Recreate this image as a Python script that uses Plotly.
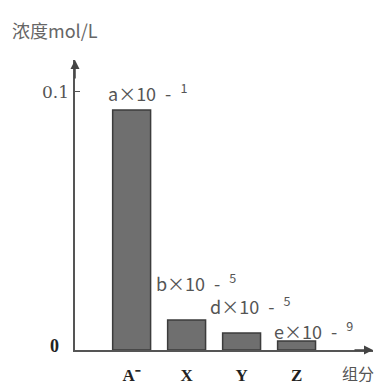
import plotly.graph_objects as go

categories = ["A⁻", "X", "Y", "Z"]
values = [0.093, 0.0116, 0.0066, 0.0035]
bar_labels = ["a×10\u2002-\u2002<sup>1</sup>", "b×10\u2002-\u2002<sup>5</sup>",
              "d×10\u2002-\u2002<sup>5</sup>", "e×10\u2002-\u2002<sup>9</sup>"]
y_tick_vals = [0, 0.1]
y_tick_text = ["0", "0.1"]
title_text = "浓度mol/L"
x_axis_text = "组分"

W, H = 378, 385
L, R, T, B = 75, 5, 60, 35
PW, PH = W - L - R, H - T - B

fig = go.Figure()
fig.add_trace(go.Bar(
    x=list(range(len(categories))), y=values, width=0.69,
    marker=dict(color="#6f6f6f", line=dict(color="#3c3c3c", width=1.5)),
    hoverinfo="skip",
))

label_shift = [(16, 18), (9, 38), (8, 28), (17, 11)]
anns = []
for i, (lab, v) in enumerate(zip(bar_labels, values)):
    dx, dy = label_shift[i]
    anns.append(dict(x=i, y=v, xref="x", yref="y", text=lab, showarrow=False,
                     xshift=dx, yshift=dy, yanchor="middle",
                     font=dict(family="Noto Sans CJK SC", size=18, color="#555555")))

# y tick labels
anns.append(dict(x=0, y=y_tick_vals[1], xref="paper", yref="y", text=y_tick_text[1],
                 showarrow=False, xanchor="right", xshift=-4,
                 font=dict(family="DejaVu Serif", size=17, color="#555555")))
anns.append(dict(x=0, y=y_tick_vals[0], xref="paper", yref="y", text=y_tick_text[0],
                 showarrow=False, xanchor="right", xshift=-14, yshift=4,
                 font=dict(family="Liberation Serif", size=18, color="#222222", weight="bold")))
# title and x axis name
anns.append(dict(x=(10 - L) / PW, y=1 + (T - 30) / PH, xref="paper", yref="paper",
                 text=title_text, showarrow=False, xanchor="left", yanchor="middle",
                 font=dict(family="Noto Sans CJK SC", size=18, color="#666666")))
anns.append(dict(x=(358 - L) / PW, y=-(373 - (H - B)) / PH,
                 xref="paper", yref="paper", text=x_axis_text, showarrow=False,
                 xanchor="center", yanchor="middle",
                 font=dict(family="Noto Sans CJK SC", size=16, color="#555555")))
# arrowheads
anns.append(dict(x=0, y=1, xref="paper", yref="paper", ax=0, ay=20, text="",
                 showarrow=True, arrowhead=2, arrowsize=1.2, arrowwidth=1.5, arrowcolor="#444444"))
anns.append(dict(x=1, y=0, xref="paper", yref="paper", ax=-20, ay=0, text="",
                 showarrow=True, arrowhead=2, arrowsize=1.2, arrowwidth=1.5, arrowcolor="#444444"))

fig.update_layout(
    width=W, height=H, margin=dict(l=L, r=R, t=T, b=B, autoexpand=False),
    paper_bgcolor="white", plot_bgcolor="white", showlegend=False,
    annotations=anns,
    xaxis=dict(range=[-1.03, 4.39], tickmode="array", tickvals=list(range(len(categories))),
               ticktext=categories, showline=True, linecolor="#555555", linewidth=1.5,
               showgrid=False, zeroline=False, ticks="", ticklabelstandoff=9, automargin=False,
               tickfont=dict(family="Liberation Serif", size=17, color="#222222", weight="bold")),
    yaxis=dict(range=[0, 0.1124], tickmode="array", tickvals=[y_tick_vals[1]],
               showticklabels=False, ticks="inside", ticklen=5, tickcolor="#555555",
               showline=True, linecolor="#555555", linewidth=1.5, automargin=False,
               showgrid=False, zeroline=False),
)
fig.write_html("out.html", config={"displayModeBar": False},
               post_script="document.body.style.margin='0';document.body.style.overflow='hidden';")
